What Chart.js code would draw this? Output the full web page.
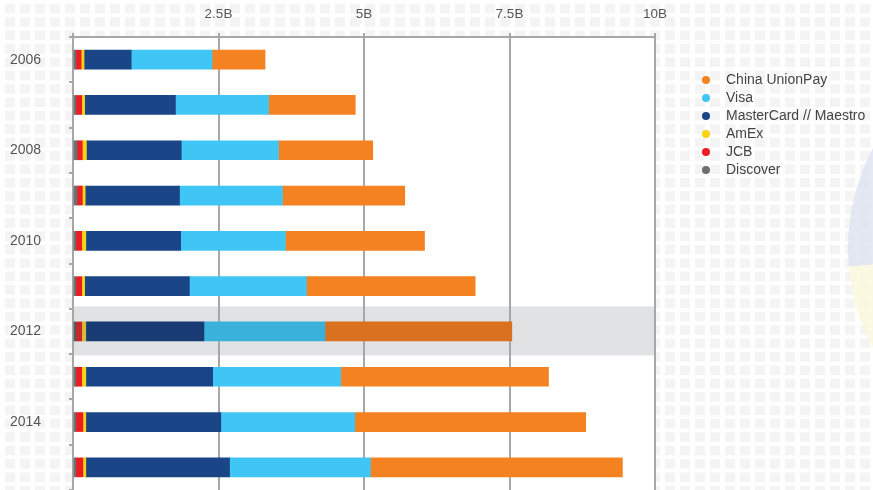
<!DOCTYPE html>
<html>
<head>
<meta charset="utf-8">
<script src="https://cdn.jsdelivr.net/npm/chart.js@4/dist/chart.umd.min.js"></script>
<style>
  html, body { margin: 0; padding: 0; }
  body {
    width: 873px; height: 490px; overflow: hidden; position: relative;
    background-color: #fff;
    background-image: linear-gradient(90deg, #fff 5px, transparent 5px),
                      linear-gradient(#fff 4px, #f4f4f4 4px);
    background-size: 15px 13.4px;
    font-family: "Liberation Sans", Arial, sans-serif;
  }
  #disc {
    position: absolute; left: 848px; top: 36px; width: 424px; height: 424px;
    border-radius: 50%;
    background: conic-gradient(from 0deg, #fbf6dc 0deg 180deg, #fcf8dd 180deg 265deg, #dfe4f1 265deg 360deg);
    opacity: 0.85;
  }
  #wrap { position: absolute; left: 0; top: 0; width: 873px; height: 490px; }
  #legend { position: absolute; left: 701px; top: 70px; list-style: none; margin: 0; padding: 0; }
  #legend li { height: 18px; line-height: 18px; font-size: 14px; color: #444; white-space: nowrap; }
  #legend span { display: inline-block; width: 8px; height: 8px; border-radius: 50%; margin: 0 16px 0 1px; vertical-align: 0px; }
</style>
</head>
<body>
<div id="disc"></div>
<div id="wrap"><canvas id="chart"></canvas></div>
<ul id="legend"></ul>
<script>
const years = ["2006", "2007", "2008", "2009", "2010", "2011", "2012", "2013", "2014", "2015"];
const xTicks = [0, 2.5e9, 5e9, 7.5e9, 10e9];

// transactions, billions
const discover = [0.05, 0.05, 0.07, 0.07, 0.05, 0.05, 0.05, 0.05, 0.05, 0.05];
const jcb      = [0.09, 0.10, 0.09, 0.09, 0.10, 0.10, 0.10, 0.10, 0.12, 0.12];
const amex     = [0.05, 0.05, 0.07, 0.05, 0.07, 0.05, 0.07, 0.07, 0.05, 0.05];
const master   = [0.81, 1.56, 1.63, 1.62, 1.63, 1.80, 2.03, 2.18, 2.32, 2.47];
const visa     = [1.39, 1.60, 1.67, 1.77, 1.80, 2.01, 2.08, 2.20, 2.30, 2.42];
const unionPay = [0.91, 1.49, 1.62, 2.10, 2.39, 2.90, 3.21, 3.57, 3.97, 4.33];

const highlightIndex = 6;

const series = [
  { label: "Discover", data: discover, color: "#6d6e70", dark: "#58595b" },
  { label: "JCB", data: jcb, color: "#ed1c24", dark: "#c9252b" },
  { label: "AmEx", data: amex, color: "#f7d418", dark: "#d6bb3a" },
  { label: "MasterCard // Maestro", data: master, color: "#1a4587", dark: "#173b72" },
  { label: "Visa", data: visa, color: "#40c6f4", dark: "#3ab1da" },
  { label: "China UnionPay", data: unionPay, color: "#f58220", dark: "#d9711f" }
];

//Legend (top item is last series)
const legend = document.getElementById("legend");
legend.innerHTML = series.slice().reverse().map(s =>
  `<li><span style="background:${s.color}"></span>${s.label}</li>`
).join("");

//Background of plot + highlighted row
const plotBg = {
  id: "plotBg",
  beforeDraw(chart) {
    const { ctx, chartArea } = chart;
    const y = chart.scales.y;
    ctx.save();
    ctx.fillStyle = "#fff";
    ctx.fillRect(chartArea.left - 1, chartArea.top, chartArea.right - chartArea.left + 1, chartArea.bottom - chartArea.top);
    const cy = y.getPixelForValue(highlightIndex);
    ctx.fillStyle = "#e1e2e4";
    ctx.fillRect(chartArea.left - 1, cy - 25, chartArea.right - chartArea.left + 1, 49);
    ctx.restore();
  }
};

const chart = new Chart(document.getElementById("chart"), {
  type: "bar",
  data: {
    labels: years,
    datasets: series.map(s => ({
      label: s.label,
      data: s.data.map(v => v * 1e9),
      backgroundColor: c => c.dataIndex === highlightIndex ? s.dark : s.color,
      borderWidth: 0,
      barThickness: 19
    }))
  },
  options: {
    indexAxis: "y",
    responsive: true,
    maintainAspectRatio: false,
    animation: false,
    layout: { padding: { left: 10, right: 218, top: 0, bottom: 0 } },
    scales: {
      x: {
        position: "top",
        stacked: true,
        min: 0,
        max: 10e9,
        afterBuildTicks: s => { s.ticks = xTicks.map(v => ({ value: v })); },
        afterFit: s => { s.height = 37; s.paddingLeft = 0; s.paddingRight = 0; },
        ticks: {
          padding: 11,
          color: "#555",
          font: { family: "Liberation Sans", size: 13.5 },
          callback: v => v === 0 ? "" : (v / 1e9) + "B"
        },
        grid: { color: "#a7a7a7", lineWidth: 2, tickLength: 4 },
        border: { display: true, color: "#a7a7a7", width: 2 }
      },
      y: {
        stacked: true,
        afterFit: s => { s.width = 63; s.paddingTop = 0; s.paddingBottom = 0; },
        ticks: {
          crossAlign: "far",
          color: "#555",
          font: { family: "Liberation Sans", size: 14 },
          callback: (v, i) => i % 2 === 0 ? years[i] : ""
        },
        grid: { drawOnChartArea: false, color: "#a7a7a7", lineWidth: 2, tickLength: 4, offset: true },
        border: { display: true, color: "#a7a7a7", width: 2 }
      }
    },
    plugins: {
      legend: { display: false },
      tooltip: { enabled: false }
    }
  },
  plugins: [plotBg]
});
</script>
</body>
</html>
